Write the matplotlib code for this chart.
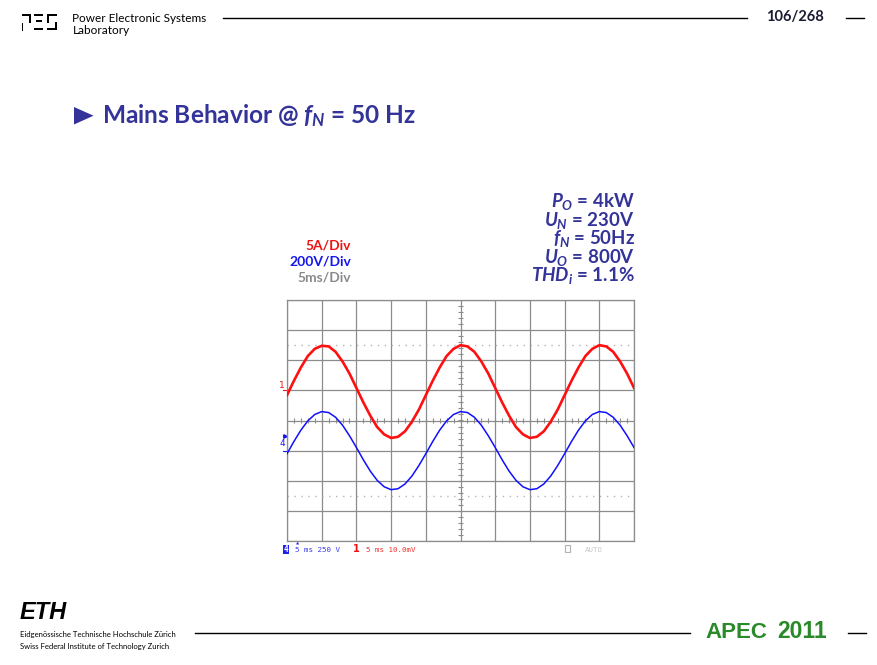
import matplotlib
matplotlib.use("Agg")
import matplotlib.pyplot as plt
import numpy as np
from matplotlib.patches import Rectangle, Polygon

# ---------------- data ----------------
time_ms = [0, 1, 2, 3, 4, 5, 6, 7, 8, 9,
           10, 11, 12, 13, 14, 15, 16, 17, 18, 19,
           20, 21, 22, 23, 24, 25, 26, 27, 28, 29,
           30, 31, 32, 33, 34, 35, 36, 37, 38, 39,
           40, 41, 42, 43, 44, 45, 46, 47, 48, 49, 50]

# mains current (channel 1), A
current_a = [-0.8, 1.6, 3.8, 5.7, 6.9, 7.4, 7.3, 6.4, 4.8, 2.8,
             0.4, -2.0, -4.2, -6.1, -7.3, -7.9, -7.7, -6.8, -5.2, -3.2,
             -0.8, 1.6, 3.8, 5.7, 6.9, 7.5, 7.3, 6.4, 4.8, 2.8,
             0.4, -2.0, -4.2, -6.1, -7.3, -7.9, -7.7, -6.8, -5.2, -3.2,
             -0.8, 1.6, 3.8, 5.7, 6.9, 7.5, 7.3, 6.4, 4.8, 2.8, 0.4]

# mains voltage (channel 4), V
voltage_v = [-26, 76, 170, 247, 300, 324, 316, 277, 211, 124,
             26, -76, -170, -247, -300, -324, -316, -277, -211, -124,
             -26, 76, 170, 247, 300, 324, 316, 277, 211, 124,
             26, -76, -170, -247, -300, -324, -316, -277, -211, -124,
             -26, 76, 170, 247, 300, 324, 316, 277, 211, 124, 26]

TIME_PER_DIV = 5.0        # ms/div
CURRENT_PER_DIV = 5.0     # A/div
VOLTAGE_PER_DIV = 250.0   # V/div (scope setting)
CH1_GROUND_DIV = 1.0
CH4_GROUND_DIV = -1.0

param_lines = [r"$P_O$ = 4kW", r"$U_N$ = 230V", r"$f_N$ = 50Hz",
               r"$U_O$ = 800V", r"$THD_i$ = 1.1%"]
scale_labels = ["5A/Div", "200V/Div", "5ms/Div"]
scale_colors = ["#ee1111", "#1515ee", "#8a8a8a"]

FONT = "Lato"
NAVY = "#333399"

plt.rcParams["mathtext.fontset"] = "custom"
plt.rcParams["mathtext.it"] = FONT + ":italic:bold"
plt.rcParams["mathtext.rm"] = FONT + ":bold"
plt.rcParams["mathtext.bf"] = FONT + ":bold"

W, H = 878, 665
fig = plt.figure(figsize=(W / 100, H / 100), dpi=100)
fig.patch.set_facecolor("white")

# ---------------- slide background layer (pixel coordinates) ----------------
bg = fig.add_axes([0, 0, 1, 1])
bg.set_xlim(0, W)
bg.set_ylim(H, 0)
bg.axis("off")

# PES logo
logo_rects = [
    (21.7, 14.0, 9.0, 2.0), (28.7, 14.0, 2.0, 8.5), (21.7, 22.5, 1.8, 8.0),
    (34.0, 14.0, 9.3, 2.0), (36.0, 20.2, 6.0, 1.8), (34.0, 28.0, 9.3, 2.0),
    (46.7, 14.0, 10.0, 2.0), (46.7, 14.0, 2.0, 9.0), (54.7, 21.5, 2.0, 8.5),
    (47.5, 28.0, 9.2, 2.0),
]
for (x, y, w, h) in logo_rects:
    bg.add_patch(Rectangle((x, y), w, h, color="black", lw=0))

bg.text(72.5, 18.5, "Power Electronic Systems", fontsize=8.5, family=FONT,
        color="black", va="center", ha="left")
bg.text(72.5, 30.5, "Laboratory", fontsize=8.5, family=FONT,
        color="black", va="center", ha="left")
bg.plot([223, 747], [17.7, 17.7], color="black", lw=1.0)
bg.text(795, 16.5, "106/268", fontsize=10.5, family=FONT, weight="bold",
        color="#1a1a33", va="center", ha="center")
bg.plot([846, 864], [17.7, 17.7], color="black", lw=1.0)

# title
bg.add_patch(Polygon([[74, 107], [74, 124.5], [93.5, 115.7]], closed=True,
                     color=NAVY, lw=0))
bg.text(102, 115.5, r"Mains Behavior @ $f_N$ = 50 Hz", fontsize=17.6,
        family=FONT, weight="bold", color=NAVY, va="center", ha="left")

# operating point parameters (one multi-line block, right aligned)
bg.text(635, 191, "\n".join(param_lines), fontsize=13.5, family=FONT,
        weight="bold", color=NAVY, va="top", ha="right",
        multialignment="right", linespacing=0.85)

# scale labels
label_y = [245, 261.5, 278]
for txt, c, y in zip(scale_labels, scale_colors, label_y):
    bg.text(351, y, txt, fontsize=10, family=FONT, weight="bold",
            color=c, va="center", ha="right")

# scope status bar
bg.add_patch(Rectangle((283, 544.5), 6, 9, color="#2020ee", lw=0))
bg.text(286, 549.2, "4", fontsize=5.5, family="DejaVu Sans Mono",
        color="white", va="center", ha="center", weight="bold")
bg.text(297.5, 543.5, "\u25b2", fontsize=3, family="DejaVu Sans",
        color="#3030ee", va="center", ha="center")
bg.text(295, 549.5, "5 ms 250 V", fontsize=5.4, family="DejaVu Sans Mono",
        color="#3a3aee", va="center", ha="left")
bg.text(356, 549.5, "1", fontsize=7, family="DejaVu Sans",
        color="#ee1111", va="center", ha="center", weight="bold")
bg.text(366, 549.5, "5 ms 10.0mV", fontsize=5.4, family="DejaVu Sans Mono",
        color="#ee3333", va="center", ha="left")
bg.add_patch(Rectangle((565, 545), 5, 7, fill=False, edgecolor="#b0b0b0",
                       lw=0.8))
bg.text(585, 549.5, "AUTO", fontsize=5.4, family="DejaVu Sans Mono",
        color="#c8c8c8", va="center", ha="left")

# footer
bg.text(20, 612.5, "ETH", fontsize=17, family="Liberation Sans",
        weight="bold", style="italic", color="black", va="center", ha="left")
bg.text(20, 634.5, "Eidgenössische Technische Hochschule Zürich",
        fontsize=5.5, family=FONT, color="black", va="center", ha="left")
bg.text(20, 646.5, "Swiss Federal Institute of Technology Zurich",
        fontsize=5.5, family=FONT, color="black", va="center", ha="left")
bg.plot([195, 690], [633, 633], color="black", lw=1.0)
bg.text(705, 632, "APEC", fontsize=16, family="Liberation Sans",
        weight="bold", color="#2a8a2a", va="center", ha="left")
bg.text(777, 632, "2011", fontsize=16.5, family="Liberation Sans",
        weight="bold", color="#2a8a2a", va="center", ha="left")
bg.plot([848, 866], [633, 633], color="black", lw=1.0)

# ---------------- oscilloscope screen ----------------
L, R, T, B = 287, 634, 300, 541
ax = fig.add_axes([L / W, (H - B) / H, (R - L) / W, (B - T) / H])
ax.set_xlim(0, 10)
ax.set_ylim(-4, 4)
ax.set_facecolor("white")
GRID = "#8c8c8c"
ax.set_xticks(np.arange(0, 11, 1))
ax.set_yticks(np.arange(-4, 5, 1))
ax.grid(True, color=GRID, lw=0.9)
ax.tick_params(length=0, labelbottom=False, labelleft=False)
for s in ax.spines.values():
    s.set_color(GRID)
    s.set_linewidth(0.9)

# centre cross minor ticks
xs = np.arange(0.2, 10.0, 0.2)
ax.vlines(xs, -0.08, 0.08, color=GRID, lw=0.8)
ys = np.arange(-3.8, 4.0, 0.2)
ax.hlines(ys, 4.93, 5.07, color=GRID, lw=0.8)

# dotted reference lines
for yy in (2.5, -2.5):
    ax.axhline(yy, color="#b4b4b4", lw=1.0, ls=(0, (1, 4)))

t_div = np.array(time_ms) / TIME_PER_DIV
i_div = CH1_GROUND_DIV + np.array(current_a) / CURRENT_PER_DIV
v_div = CH4_GROUND_DIV + np.array(voltage_v) / VOLTAGE_PER_DIV

ax.plot(t_div, v_div, color="#1010ff", lw=1.1, zorder=3, clip_on=True)
ax.plot(t_div, i_div, color="#ff1010", lw=1.9, zorder=4, clip_on=True)

# channel ground markers
ax.text(-0.06, CH1_GROUND_DIV + 0.15, "1", fontsize=6.5, color="#ee1111",
        ha="right", va="center", clip_on=False)
ax.plot([-0.12, 0.0], [CH1_GROUND_DIV, CH1_GROUND_DIV], color="#ee1111",
        lw=0.8, clip_on=False)
ax.plot([-0.07], [CH4_GROUND_DIV + 0.48], marker=">", ms=2.5,
        color="#1515ee", clip_on=False)
ax.text(-0.06, CH4_GROUND_DIV + 0.22, "4", fontsize=6.5, color="#1515ee",
        ha="right", va="center", clip_on=False)
ax.plot([-0.12, 0.0], [CH4_GROUND_DIV, CH4_GROUND_DIV], color="#1515ee",
        lw=0.8, clip_on=False)

fig.savefig("out.png", dpi=100)
